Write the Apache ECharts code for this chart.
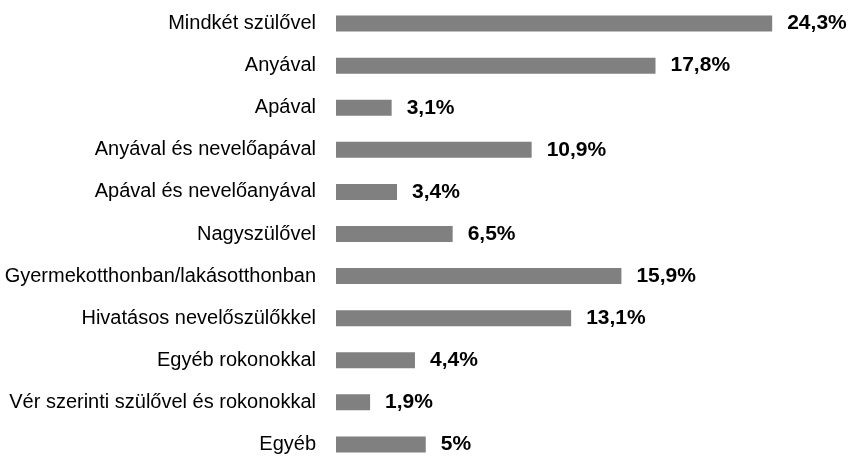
<!DOCTYPE html>
<html><head><meta charset="utf-8">
<script src="https://cdn.jsdelivr.net/npm/echarts@6/dist/echarts.min.js"></script>
<style>html,body{margin:0;padding:0;background:#fff}#c{width:849px;height:458px}</style>
</head><body><div id="c"></div>
<script>
const categories = ["Mindkét szülővel","Anyával","Apával","Anyával és nevelőapával","Apával és nevelőanyával","Nagyszülővel","Gyermekotthonban/lakásotthonban","Hivatásos nevelőszülőkkel","Egyéb rokonokkal","Vér szerinti szülővel és rokonokkal","Egyéb"];
const values = [24.3,17.8,3.1,10.9,3.4,6.5,15.9,13.1,4.4,1.9,5];
const labels = ["24,3%","17,8%","3,1%","10,9%","3,4%","6,5%","15,9%","13,1%","4,4%","1,9%","5%"];
const chart = echarts.init(document.getElementById('c'), null, {renderer:'canvas'});
chart.setOption({
  animation:false,
  grid:{left:336, top:2.5, width:538.5, height:463, outerBoundsMode:'none', containLabel:false},
  xAxis:{type:'value', min:0, max:30, show:false},
  yAxis:{type:'category', inverse:true, data:categories,
    axisLine:{show:false}, axisTick:{show:false}, splitLine:{show:false},
    axisLabel:{margin:20, color:'#000', fontFamily:'"Liberation Sans",Arial,sans-serif', fontSize:20}},
  series:[{type:'bar', data:values, barWidth:16, itemStyle:{color:'#808080'},
    label:{show:true, position:'right', distance:15, color:'#000', fontWeight:'bold',
      fontFamily:'"Liberation Sans",Arial,sans-serif', fontSize:21,
      formatter:p=>labels[p.dataIndex]}}]
});
</script></body></html>
